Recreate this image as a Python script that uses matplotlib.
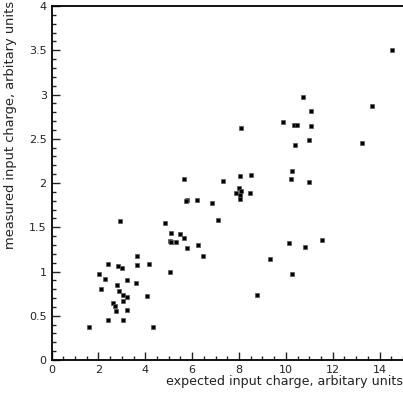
import numpy as np
import matplotlib
matplotlib.use("Agg")
import matplotlib.pyplot as plt
from matplotlib.ticker import MultipleLocator, FormatStrFormatter


# expected vs measured input charge (arbitrary units)
expected = [1.60, 2.03, 2.13, 2.29, 2.41, 2.40, 2.63, 2.70, 2.73, 2.80,
            2.83, 2.88, 2.93, 3.01, 3.03, 3.03, 3.04, 3.20, 3.20, 3.20,
            3.59, 3.65, 3.65, 4.06, 4.15, 4.33, 4.83, 5.07, 5.09, 5.10,
            5.07, 5.29, 5.48, 5.67, 5.76, 5.76, 6.24, 5.64, 7.33, 8.04,
            8.50, 8.02, 7.86, 8.10, 8.04, 8.04, 8.47, 5.74, 6.20, 6.85,
            7.09, 6.47, 8.77, 9.34, 10.12, 14.54, 10.73, 13.67, 11.09, 9.88,
            10.33, 10.47, 11.06, 10.99, 10.39, 13.23, 8.10, 10.28, 10.23, 10.99,
            11.53, 10.81, 10.28]
measured = [0.376, 0.97, 0.80, 0.92, 1.09, 0.45, 0.64, 0.61, 0.55, 0.85,
            1.06, 0.78, 1.57, 1.04, 0.73, 0.67, 0.455, 0.71, 0.90, 0.56,
            0.87, 1.18, 1.07, 0.72, 1.08, 0.37, 1.55, 1.35, 1.43, 1.33,
            0.99, 1.33, 1.42, 1.38, 1.27, 1.81, 1.30, 2.05, 2.02, 2.08,
            2.09, 1.94, 1.89, 1.91, 1.86, 1.82, 1.89, 1.80, 1.81, 1.77,
            1.58, 1.18, 0.73, 1.145, 1.32, 3.50, 2.97, 2.87, 2.81, 2.69,
            2.66, 2.65, 2.64, 2.49, 2.43, 2.45, 2.62, 2.14, 2.04, 2.01,
            1.36, 1.28, 0.975]

fig = plt.figure(figsize=(4.03, 3.95), dpi=100)
ax = fig.add_axes([0.128, 0.0886, 0.872, 0.8962])

ax.plot(expected, measured, linestyle="none", marker="s", markersize=2.9,
        markerfacecolor="black", markeredgecolor="#555555", markeredgewidth=0.5)

ax.set_xlim(0, 15)
ax.set_ylim(0, 4)

ax.xaxis.set_major_locator(MultipleLocator(2))
ax.xaxis.set_minor_locator(MultipleLocator(0.5))
ax.yaxis.set_major_locator(MultipleLocator(0.5))
ax.yaxis.set_minor_locator(MultipleLocator(0.1))
ax.xaxis.set_major_formatter(FormatStrFormatter("%g"))
ax.yaxis.set_major_formatter(FormatStrFormatter("%g"))

ax.tick_params(which="both", direction="in", width=1.0, labelsize=8,
               top=False, right=False, colors="#222222")
ax.tick_params(which="major", length=6)
ax.tick_params(which="minor", length=3)

for side in ["left", "bottom", "top"]:
    ax.spines[side].set_linewidth(1.3)
ax.spines["right"].set_visible(False)

fig.text(0.999, 0.033, "expected input charge, arbitary units",
         ha="right", va="center", fontsize=9.1, color="#222222")
fig.text(0.027, 0.999, "measured input charge, arbitary units",
         ha="center", va="top", rotation=90, fontsize=9.4, color="#222222")

fig.savefig("out.png", dpi=100)
